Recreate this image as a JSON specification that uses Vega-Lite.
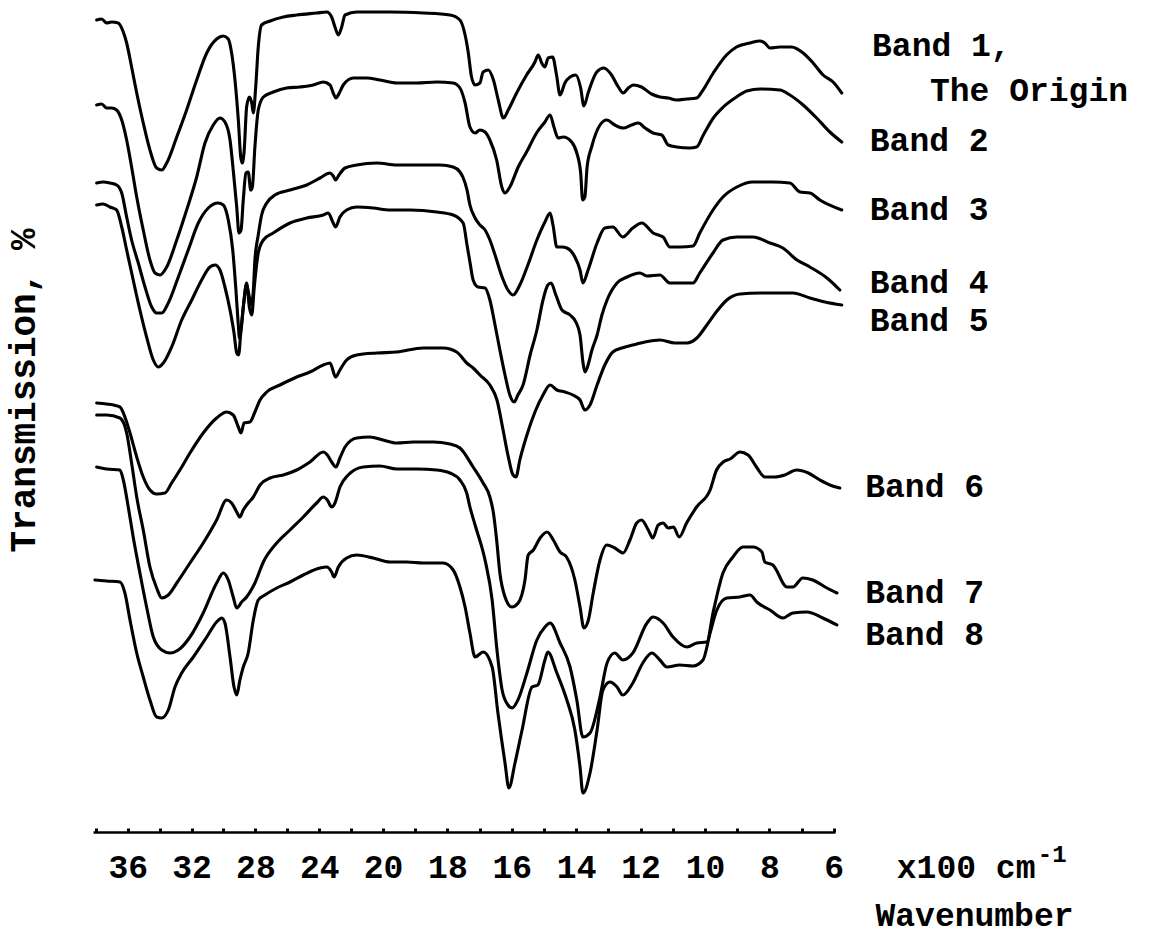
{
"$schema": "https://vega.github.io/schema/vega-lite/v6.json",
"width": 742,
"height": 832,
"autosize": {"type": "none"},
"padding": {"left": 93, "top": 0, "right": 314, "bottom": 104},
"background": "white",
"config": {"view": {"stroke": null}, "font": "Liberation Mono"},
"datasets": {
"curves": [
{"band":"Band 1","w":37.95,"level":20},{"band":"Band 1","w":37.64,"level":19},{"band":"Band 1","w":37.32,"level":23},{"band":"Band 1","w":37.01,"level":22},{"band":"Band 1","w":36.60,"level":23},{"band":"Band 1","w":36.28,"level":32},{"band":"Band 1","w":36.07,"level":43},{"band":"Band 1","w":35.76,"level":67},{"band":"Band 1","w":35.44,"level":93},{"band":"Band 1","w":35.03,"level":123},{"band":"Band 1","w":34.61,"level":150},{"band":"Band 1","w":34.19,"level":168},{"band":"Band 1","w":33.87,"level":170},{"band":"Band 1","w":33.56,"level":163},{"band":"Band 1","w":32.93,"level":137},{"band":"Band 1","w":32.31,"level":110},{"band":"Band 1","w":31.68,"level":80},{"band":"Band 1","w":31.05,"level":53},{"band":"Band 1","w":30.43,"level":39},{"band":"Band 1","w":30.01,"level":36},{"band":"Band 1","w":29.70,"level":39},{"band":"Band 1","w":29.49,"level":53},{"band":"Band 1","w":29.28,"level":80},{"band":"Band 1","w":29.07,"level":120},{"band":"Band 1","w":28.92,"level":157},{"band":"Band 1","w":28.82,"level":163},{"band":"Band 1","w":28.70,"level":150},{"band":"Band 1","w":28.55,"level":107},{"band":"Band 1","w":28.38,"level":97},{"band":"Band 1","w":28.23,"level":103},{"band":"Band 1","w":28.13,"level":113},{"band":"Band 1","w":27.98,"level":87},{"band":"Band 1","w":27.82,"level":47},{"band":"Band 1","w":27.61,"level":25},{"band":"Band 1","w":27.08,"level":21},{"band":"Band 1","w":26.25,"level":17},{"band":"Band 1","w":25.41,"level":15},{"band":"Band 1","w":24.16,"level":13},{"band":"Band 1","w":23.53,"level":12},{"band":"Band 1","w":23.22,"level":17},{"band":"Band 1","w":23.01,"level":27},{"band":"Band 1","w":22.80,"level":35},{"band":"Band 1","w":22.59,"level":27},{"band":"Band 1","w":22.38,"level":15},{"band":"Band 1","w":21.65,"level":12},{"band":"Band 1","w":19.78,"level":12},{"band":"Band 1","w":18.75,"level":13},{"band":"Band 1","w":17.92,"level":15},{"band":"Band 1","w":17.61,"level":20},{"band":"Band 1","w":17.45,"level":35},{"band":"Band 1","w":17.35,"level":53},{"band":"Band 1","w":17.25,"level":77},{"band":"Band 1","w":17.14,"level":85},{"band":"Band 1","w":16.99,"level":83},{"band":"Band 1","w":16.89,"level":72},{"band":"Band 1","w":16.73,"level":70},{"band":"Band 1","w":16.57,"level":80},{"band":"Band 1","w":16.42,"level":100},{"band":"Band 1","w":16.26,"level":118},{"band":"Band 1","w":16.11,"level":110},{"band":"Band 1","w":15.85,"level":93},{"band":"Band 1","w":15.54,"level":75},{"band":"Band 1","w":15.28,"level":62},{"band":"Band 1","w":15.18,"level":55},{"band":"Band 1","w":15.07,"level":63},{"band":"Band 1","w":14.97,"level":67},{"band":"Band 1","w":14.87,"level":58},{"band":"Band 1","w":14.73,"level":57},{"band":"Band 1","w":14.61,"level":75},{"band":"Band 1","w":14.50,"level":95},{"band":"Band 1","w":14.35,"level":83},{"band":"Band 1","w":14.19,"level":77},{"band":"Band 1","w":14.01,"level":75},{"band":"Band 1","w":13.86,"level":88},{"band":"Band 1","w":13.76,"level":106},{"band":"Band 1","w":13.62,"level":92},{"band":"Band 1","w":13.36,"level":72},{"band":"Band 1","w":13.14,"level":68},{"band":"Band 1","w":12.90,"level":75},{"band":"Band 1","w":12.69,"level":87},{"band":"Band 1","w":12.54,"level":93},{"band":"Band 1","w":12.38,"level":88},{"band":"Band 1","w":12.23,"level":85},{"band":"Band 1","w":11.97,"level":87},{"band":"Band 1","w":11.66,"level":94},{"band":"Band 1","w":11.40,"level":97},{"band":"Band 1","w":11.14,"level":98},{"band":"Band 1","w":10.88,"level":100},{"band":"Band 1","w":10.57,"level":99},{"band":"Band 1","w":10.26,"level":98},{"band":"Band 1","w":10.10,"level":92},{"band":"Band 1","w":9.74,"level":73},{"band":"Band 1","w":9.33,"level":55},{"band":"Band 1","w":9.02,"level":47},{"band":"Band 1","w":8.60,"level":43},{"band":"Band 1","w":8.29,"level":41},{"band":"Band 1","w":8.14,"level":43},{"band":"Band 1","w":7.98,"level":48},{"band":"Band 1","w":7.67,"level":47},{"band":"Band 1","w":7.31,"level":47},{"band":"Band 1","w":6.95,"level":53},{"band":"Band 1","w":6.64,"level":63},{"band":"Band 1","w":6.33,"level":75},{"band":"Band 1","w":6.02,"level":82},{"band":"Band 1","w":5.75,"level":93},
{"band":"Band 2","w":37.95,"level":105},{"band":"Band 2","w":37.64,"level":104},{"band":"Band 2","w":37.32,"level":108},{"band":"Band 2","w":37.01,"level":108},{"band":"Band 2","w":36.70,"level":110},{"band":"Band 2","w":36.38,"level":120},{"band":"Band 2","w":36.07,"level":140},{"band":"Band 2","w":35.76,"level":167},{"band":"Band 2","w":35.44,"level":197},{"band":"Band 2","w":35.03,"level":230},{"band":"Band 2","w":34.61,"level":260},{"band":"Band 2","w":34.29,"level":273},{"band":"Band 2","w":33.98,"level":275},{"band":"Band 2","w":33.56,"level":267},{"band":"Band 2","w":32.93,"level":240},{"band":"Band 2","w":32.31,"level":210},{"band":"Band 2","w":31.68,"level":177},{"band":"Band 2","w":31.16,"level":143},{"band":"Band 2","w":30.64,"level":125},{"band":"Band 2","w":30.22,"level":118},{"band":"Band 2","w":29.91,"level":122},{"band":"Band 2","w":29.59,"level":140},{"band":"Band 2","w":29.39,"level":170},{"band":"Band 2","w":29.17,"level":207},{"band":"Band 2","w":29.03,"level":233},{"band":"Band 2","w":28.90,"level":230},{"band":"Band 2","w":28.76,"level":200},{"band":"Band 2","w":28.59,"level":173},{"band":"Band 2","w":28.45,"level":172},{"band":"Band 2","w":28.29,"level":190},{"band":"Band 2","w":28.19,"level":187},{"band":"Band 2","w":28.03,"level":147},{"band":"Band 2","w":27.82,"level":110},{"band":"Band 2","w":27.50,"level":97},{"band":"Band 2","w":26.88,"level":92},{"band":"Band 2","w":26.04,"level":88},{"band":"Band 2","w":25.20,"level":87},{"band":"Band 2","w":24.37,"level":85},{"band":"Band 2","w":23.74,"level":82},{"band":"Band 2","w":23.32,"level":85},{"band":"Band 2","w":23.12,"level":93},{"band":"Band 2","w":22.95,"level":98},{"band":"Band 2","w":22.74,"level":93},{"band":"Band 2","w":22.49,"level":85},{"band":"Band 2","w":21.86,"level":78},{"band":"Band 2","w":21.02,"level":78},{"band":"Band 2","w":20.19,"level":80},{"band":"Band 2","w":19.57,"level":83},{"band":"Band 2","w":18.95,"level":83},{"band":"Band 2","w":18.33,"level":82},{"band":"Band 2","w":17.82,"level":83},{"band":"Band 2","w":17.61,"level":88},{"band":"Band 2","w":17.45,"level":103},{"band":"Band 2","w":17.30,"level":127},{"band":"Band 2","w":17.14,"level":133},{"band":"Band 2","w":16.99,"level":130},{"band":"Band 2","w":16.83,"level":132},{"band":"Band 2","w":16.68,"level":140},{"band":"Band 2","w":16.47,"level":160},{"band":"Band 2","w":16.31,"level":187},{"band":"Band 2","w":16.21,"level":193},{"band":"Band 2","w":16.06,"level":187},{"band":"Band 2","w":15.80,"level":167},{"band":"Band 2","w":15.54,"level":152},{"band":"Band 2","w":15.23,"level":133},{"band":"Band 2","w":14.97,"level":122},{"band":"Band 2","w":14.81,"level":115},{"band":"Band 2","w":14.69,"level":127},{"band":"Band 2","w":14.56,"level":138},{"band":"Band 2","w":14.40,"level":137},{"band":"Band 2","w":14.14,"level":142},{"band":"Band 2","w":13.98,"level":153},{"band":"Band 2","w":13.86,"level":173},{"band":"Band 2","w":13.80,"level":200},{"band":"Band 2","w":13.73,"level":197},{"band":"Band 2","w":13.66,"level":167},{"band":"Band 2","w":13.52,"level":147},{"band":"Band 2","w":13.26,"level":125},{"band":"Band 2","w":13.05,"level":120},{"band":"Band 2","w":12.80,"level":125},{"band":"Band 2","w":12.54,"level":128},{"band":"Band 2","w":12.28,"level":125},{"band":"Band 2","w":12.07,"level":123},{"band":"Band 2","w":11.86,"level":128},{"band":"Band 2","w":11.61,"level":133},{"band":"Band 2","w":11.34,"level":135},{"band":"Band 2","w":11.14,"level":145},{"band":"Band 2","w":10.88,"level":147},{"band":"Band 2","w":10.47,"level":148},{"band":"Band 2","w":10.26,"level":147},{"band":"Band 2","w":10.05,"level":135},{"band":"Band 2","w":9.74,"level":118},{"band":"Band 2","w":9.43,"level":107},{"band":"Band 2","w":9.02,"level":97},{"band":"Band 2","w":8.70,"level":91},{"band":"Band 2","w":8.29,"level":89},{"band":"Band 2","w":7.67,"level":90},{"band":"Band 2","w":7.36,"level":95},{"band":"Band 2","w":6.95,"level":105},{"band":"Band 2","w":6.53,"level":118},{"band":"Band 2","w":6.12,"level":132},{"band":"Band 2","w":5.75,"level":142},
{"band":"Band 3","w":37.95,"level":183},{"band":"Band 3","w":37.54,"level":182},{"band":"Band 3","w":37.12,"level":183},{"band":"Band 3","w":36.70,"level":185},{"band":"Band 3","w":36.38,"level":193},{"band":"Band 3","w":36.07,"level":217},{"band":"Band 3","w":35.76,"level":240},{"band":"Band 3","w":35.34,"level":263},{"band":"Band 3","w":34.92,"level":287},{"band":"Band 3","w":34.50,"level":307},{"band":"Band 3","w":34.19,"level":313},{"band":"Band 3","w":33.87,"level":313},{"band":"Band 3","w":33.46,"level":303},{"band":"Band 3","w":32.83,"level":277},{"band":"Band 3","w":32.21,"level":250},{"band":"Band 3","w":31.58,"level":223},{"band":"Band 3","w":30.95,"level":208},{"band":"Band 3","w":30.33,"level":203},{"band":"Band 3","w":30.01,"level":205},{"band":"Band 3","w":29.70,"level":220},{"band":"Band 3","w":29.42,"level":250},{"band":"Band 3","w":29.22,"level":290},{"band":"Band 3","w":29.07,"level":325},{"band":"Band 3","w":29.00,"level":338},{"band":"Band 3","w":28.90,"level":330},{"band":"Band 3","w":28.71,"level":300},{"band":"Band 3","w":28.56,"level":285},{"band":"Band 3","w":28.40,"level":295},{"band":"Band 3","w":28.28,"level":305},{"band":"Band 3","w":28.15,"level":295},{"band":"Band 3","w":28.03,"level":260},{"band":"Band 3","w":27.82,"level":235},{"band":"Band 3","w":27.61,"level":215},{"band":"Band 3","w":27.29,"level":203},{"band":"Band 3","w":26.77,"level":195},{"band":"Band 3","w":25.83,"level":190},{"band":"Band 3","w":24.78,"level":185},{"band":"Band 3","w":23.95,"level":178},{"band":"Band 3","w":23.32,"level":173},{"band":"Band 3","w":23.12,"level":176},{"band":"Band 3","w":22.97,"level":180},{"band":"Band 3","w":22.76,"level":175},{"band":"Band 3","w":22.38,"level":168},{"band":"Band 3","w":21.65,"level":165},{"band":"Band 3","w":20.39,"level":163},{"band":"Band 3","w":19.57,"level":165},{"band":"Band 3","w":18.85,"level":165},{"band":"Band 3","w":18.23,"level":165},{"band":"Band 3","w":17.82,"level":167},{"band":"Band 3","w":17.61,"level":172},{"band":"Band 3","w":17.52,"level":177},{"band":"Band 3","w":17.39,"level":190},{"band":"Band 3","w":17.30,"level":205},{"band":"Band 3","w":17.14,"level":218},{"band":"Band 3","w":16.99,"level":225},{"band":"Band 3","w":16.83,"level":230},{"band":"Band 3","w":16.68,"level":240},{"band":"Band 3","w":16.52,"level":255},{"band":"Band 3","w":16.30,"level":277},{"band":"Band 3","w":16.12,"level":290},{"band":"Band 3","w":15.96,"level":295},{"band":"Band 3","w":15.75,"level":285},{"band":"Band 3","w":15.50,"level":265},{"band":"Band 3","w":15.22,"level":240},{"band":"Band 3","w":14.97,"level":222},{"band":"Band 3","w":14.81,"level":213},{"band":"Band 3","w":14.72,"level":225},{"band":"Band 3","w":14.60,"level":247},{"band":"Band 3","w":14.44,"level":247},{"band":"Band 3","w":14.29,"level":248},{"band":"Band 3","w":14.04,"level":257},{"band":"Band 3","w":13.88,"level":270},{"band":"Band 3","w":13.79,"level":283},{"band":"Band 3","w":13.63,"level":270},{"band":"Band 3","w":13.35,"level":243},{"band":"Band 3","w":13.11,"level":228},{"band":"Band 3","w":12.86,"level":227},{"band":"Band 3","w":12.55,"level":237},{"band":"Band 3","w":12.24,"level":228},{"band":"Band 3","w":11.96,"level":223},{"band":"Band 3","w":11.61,"level":233},{"band":"Band 3","w":11.30,"level":237},{"band":"Band 3","w":11.09,"level":247},{"band":"Band 3","w":10.78,"level":247},{"band":"Band 3","w":10.37,"level":246},{"band":"Band 3","w":10.16,"level":233},{"band":"Band 3","w":9.75,"level":210},{"band":"Band 3","w":9.44,"level":197},{"band":"Band 3","w":9.01,"level":187},{"band":"Band 3","w":8.51,"level":182},{"band":"Band 3","w":7.89,"level":182},{"band":"Band 3","w":7.36,"level":183},{"band":"Band 3","w":7.05,"level":192},{"band":"Band 3","w":6.74,"level":193},{"band":"Band 3","w":6.43,"level":200},{"band":"Band 3","w":5.75,"level":210},
{"band":"Band 4","w":37.95,"level":205},{"band":"Band 4","w":37.54,"level":204},{"band":"Band 4","w":37.12,"level":207},{"band":"Band 4","w":36.70,"level":210},{"band":"Band 4","w":36.38,"level":227},{"band":"Band 4","w":36.07,"level":250},{"band":"Band 4","w":35.66,"level":280},{"band":"Band 4","w":35.24,"level":310},{"band":"Band 4","w":34.82,"level":337},{"band":"Band 4","w":34.40,"level":360},{"band":"Band 4","w":34.09,"level":367},{"band":"Band 4","w":33.77,"level":363},{"band":"Band 4","w":33.25,"level":347},{"band":"Band 4","w":32.62,"level":320},{"band":"Band 4","w":31.99,"level":300},{"band":"Band 4","w":31.37,"level":280},{"band":"Band 4","w":30.85,"level":267},{"band":"Band 4","w":30.53,"level":265},{"band":"Band 4","w":30.22,"level":270},{"band":"Band 4","w":29.91,"level":287},{"band":"Band 4","w":29.59,"level":310},{"band":"Band 4","w":29.34,"level":333},{"band":"Band 4","w":29.17,"level":353},{"band":"Band 4","w":29.05,"level":355},{"band":"Band 4","w":28.92,"level":333},{"band":"Band 4","w":28.71,"level":300},{"band":"Band 4","w":28.55,"level":283},{"band":"Band 4","w":28.38,"level":307},{"band":"Band 4","w":28.23,"level":315},{"band":"Band 4","w":28.07,"level":287},{"band":"Band 4","w":27.82,"level":253},{"band":"Band 4","w":27.50,"level":240},{"band":"Band 4","w":26.88,"level":233},{"band":"Band 4","w":25.83,"level":223},{"band":"Band 4","w":24.78,"level":218},{"band":"Band 4","w":23.74,"level":215},{"band":"Band 4","w":23.43,"level":213},{"band":"Band 4","w":23.15,"level":222},{"band":"Band 4","w":22.97,"level":227},{"band":"Band 4","w":22.70,"level":217},{"band":"Band 4","w":22.28,"level":210},{"band":"Band 4","w":21.65,"level":207},{"band":"Band 4","w":20.61,"level":208},{"band":"Band 4","w":19.78,"level":210},{"band":"Band 4","w":19.16,"level":210},{"band":"Band 4","w":18.33,"level":212},{"band":"Band 4","w":17.82,"level":215},{"band":"Band 4","w":17.51,"level":223},{"band":"Band 4","w":17.39,"level":245},{"band":"Band 4","w":17.30,"level":262},{"band":"Band 4","w":17.20,"level":280},{"band":"Band 4","w":17.05,"level":287},{"band":"Band 4","w":16.83,"level":288},{"band":"Band 4","w":16.68,"level":300},{"band":"Band 4","w":16.52,"level":325},{"band":"Band 4","w":16.37,"level":350},{"band":"Band 4","w":16.21,"level":375},{"band":"Band 4","w":16.06,"level":395},{"band":"Band 4","w":15.93,"level":402},{"band":"Band 4","w":15.81,"level":395},{"band":"Band 4","w":15.65,"level":385},{"band":"Band 4","w":15.43,"level":355},{"band":"Band 4","w":15.22,"level":330},{"band":"Band 4","w":15.03,"level":300},{"band":"Band 4","w":14.88,"level":285},{"band":"Band 4","w":14.78,"level":283},{"band":"Band 4","w":14.63,"level":295},{"band":"Band 4","w":14.44,"level":310},{"band":"Band 4","w":14.19,"level":315},{"band":"Band 4","w":14.01,"level":322},{"band":"Band 4","w":13.88,"level":335},{"band":"Band 4","w":13.79,"level":362},{"band":"Band 4","w":13.73,"level":372},{"band":"Band 4","w":13.63,"level":365},{"band":"Band 4","w":13.51,"level":350},{"band":"Band 4","w":13.35,"level":335},{"band":"Band 4","w":13.20,"level":315},{"band":"Band 4","w":13.04,"level":300},{"band":"Band 4","w":12.73,"level":283},{"band":"Band 4","w":12.42,"level":277},{"band":"Band 4","w":12.02,"level":273},{"band":"Band 4","w":11.80,"level":276},{"band":"Band 4","w":11.40,"level":275},{"band":"Band 4","w":11.09,"level":283},{"band":"Band 4","w":10.37,"level":283},{"band":"Band 4","w":10.16,"level":273},{"band":"Band 4","w":9.75,"level":253},{"band":"Band 4","w":9.44,"level":240},{"band":"Band 4","w":9.01,"level":237},{"band":"Band 4","w":8.51,"level":237},{"band":"Band 4","w":7.98,"level":243},{"band":"Band 4","w":7.58,"level":248},{"band":"Band 4","w":7.14,"level":260},{"band":"Band 4","w":6.74,"level":267},{"band":"Band 4","w":6.21,"level":278},{"band":"Band 4","w":5.81,"level":290},
{"band":"Band 5","w":37.95,"level":403},{"band":"Band 5","w":37.32,"level":404},{"band":"Band 5","w":36.49,"level":407},{"band":"Band 5","w":36.18,"level":417},{"band":"Band 5","w":35.86,"level":433},{"band":"Band 5","w":35.44,"level":457},{"band":"Band 5","w":35.03,"level":477},{"band":"Band 5","w":34.61,"level":490},{"band":"Band 5","w":34.19,"level":494},{"band":"Band 5","w":33.67,"level":493},{"band":"Band 5","w":33.25,"level":483},{"band":"Band 5","w":32.73,"level":470},{"band":"Band 5","w":32.10,"level":453},{"band":"Band 5","w":31.27,"level":433},{"band":"Band 5","w":30.43,"level":418},{"band":"Band 5","w":29.80,"level":412},{"band":"Band 5","w":29.39,"level":415},{"band":"Band 5","w":29.07,"level":427},{"band":"Band 5","w":28.90,"level":433},{"band":"Band 5","w":28.71,"level":423},{"band":"Band 5","w":28.34,"level":422},{"band":"Band 5","w":28.03,"level":412},{"band":"Band 5","w":27.71,"level":400},{"band":"Band 5","w":27.29,"level":392},{"band":"Band 5","w":26.46,"level":385},{"band":"Band 5","w":25.41,"level":377},{"band":"Band 5","w":24.58,"level":372},{"band":"Band 5","w":23.74,"level":365},{"band":"Band 5","w":23.32,"level":363},{"band":"Band 5","w":22.97,"level":377},{"band":"Band 5","w":22.70,"level":370},{"band":"Band 5","w":22.28,"level":360},{"band":"Band 5","w":21.65,"level":355},{"band":"Band 5","w":20.39,"level":353},{"band":"Band 5","w":19.57,"level":352},{"band":"Band 5","w":18.75,"level":348},{"band":"Band 5","w":18.13,"level":348},{"band":"Band 5","w":17.71,"level":352},{"band":"Band 5","w":17.40,"level":363},{"band":"Band 5","w":17.20,"level":368},{"band":"Band 5","w":16.99,"level":375},{"band":"Band 5","w":16.68,"level":385},{"band":"Band 5","w":16.46,"level":400},{"band":"Band 5","w":16.27,"level":430},{"band":"Band 5","w":16.12,"level":455},{"band":"Band 5","w":15.96,"level":475},{"band":"Band 5","w":15.87,"level":477},{"band":"Band 5","w":15.75,"level":460},{"band":"Band 5","w":15.53,"level":435},{"band":"Band 5","w":15.28,"level":412},{"band":"Band 5","w":15.03,"level":395},{"band":"Band 5","w":14.81,"level":385},{"band":"Band 5","w":14.60,"level":390},{"band":"Band 5","w":14.35,"level":392},{"band":"Band 5","w":14.10,"level":395},{"band":"Band 5","w":13.88,"level":400},{"band":"Band 5","w":13.73,"level":410},{"band":"Band 5","w":13.57,"level":405},{"band":"Band 5","w":13.35,"level":385},{"band":"Band 5","w":13.11,"level":365},{"band":"Band 5","w":12.86,"level":352},{"band":"Band 5","w":12.58,"level":348},{"band":"Band 5","w":12.24,"level":345},{"band":"Band 5","w":11.86,"level":342},{"band":"Band 5","w":11.40,"level":340},{"band":"Band 5","w":10.93,"level":343},{"band":"Band 5","w":10.56,"level":343},{"band":"Band 5","w":10.25,"level":338},{"band":"Band 5","w":9.94,"level":325},{"band":"Band 5","w":9.60,"level":310},{"band":"Band 5","w":9.32,"level":300},{"band":"Band 5","w":8.91,"level":294},{"band":"Band 5","w":8.29,"level":293},{"band":"Band 5","w":7.27,"level":293},{"band":"Band 5","w":6.74,"level":298},{"band":"Band 5","w":6.27,"level":302},{"band":"Band 5","w":5.75,"level":305},
{"band":"Band 6","w":37.95,"level":415},{"band":"Band 6","w":37.32,"level":415},{"band":"Band 6","w":36.49,"level":418},{"band":"Band 6","w":36.07,"level":433},{"band":"Band 6","w":35.76,"level":463},{"band":"Band 6","w":35.44,"level":497},{"band":"Band 6","w":35.03,"level":530},{"band":"Band 6","w":34.61,"level":567},{"band":"Band 6","w":34.19,"level":588},{"band":"Band 6","w":33.87,"level":598},{"band":"Band 6","w":33.46,"level":595},{"band":"Band 6","w":32.93,"level":583},{"band":"Band 6","w":32.10,"level":563},{"band":"Band 6","w":31.27,"level":543},{"band":"Band 6","w":30.43,"level":520},{"band":"Band 6","w":29.80,"level":500},{"band":"Band 6","w":29.49,"level":503},{"band":"Band 6","w":29.17,"level":512},{"band":"Band 6","w":28.97,"level":517},{"band":"Band 6","w":28.76,"level":510},{"band":"Band 6","w":28.45,"level":503},{"band":"Band 6","w":28.13,"level":497},{"band":"Band 6","w":27.71,"level":485},{"band":"Band 6","w":27.08,"level":478},{"band":"Band 6","w":26.25,"level":475},{"band":"Band 6","w":25.41,"level":470},{"band":"Band 6","w":24.58,"level":462},{"band":"Band 6","w":23.74,"level":452},{"band":"Band 6","w":23.49,"level":455},{"band":"Band 6","w":23.22,"level":462},{"band":"Band 6","w":22.95,"level":467},{"band":"Band 6","w":22.70,"level":458},{"band":"Band 6","w":22.38,"level":447},{"band":"Band 6","w":21.65,"level":438},{"band":"Band 6","w":20.82,"level":437},{"band":"Band 6","w":20.00,"level":440},{"band":"Band 6","w":19.57,"level":443},{"band":"Band 6","w":19.06,"level":442},{"band":"Band 6","w":18.44,"level":442},{"band":"Band 6","w":17.92,"level":444},{"band":"Band 6","w":17.61,"level":448},{"band":"Band 6","w":17.20,"level":467},{"band":"Band 6","w":16.89,"level":483},{"band":"Band 6","w":16.68,"level":497},{"band":"Band 6","w":16.57,"level":513},{"band":"Band 6","w":16.47,"level":540},{"band":"Band 6","w":16.37,"level":573},{"band":"Band 6","w":16.21,"level":597},{"band":"Band 6","w":16.00,"level":607},{"band":"Band 6","w":15.80,"level":603},{"band":"Band 6","w":15.59,"level":580},{"band":"Band 6","w":15.49,"level":555},{"band":"Band 6","w":15.33,"level":550},{"band":"Band 6","w":15.12,"level":538},{"band":"Band 6","w":14.90,"level":532},{"band":"Band 6","w":14.71,"level":540},{"band":"Band 6","w":14.50,"level":552},{"band":"Band 6","w":14.30,"level":557},{"band":"Band 6","w":14.04,"level":580},{"band":"Band 6","w":13.88,"level":607},{"band":"Band 6","w":13.76,"level":628},{"band":"Band 6","w":13.62,"level":620},{"band":"Band 6","w":13.47,"level":593},{"band":"Band 6","w":13.26,"level":560},{"band":"Band 6","w":13.05,"level":545},{"band":"Band 6","w":12.80,"level":548},{"band":"Band 6","w":12.54,"level":553},{"band":"Band 6","w":12.33,"level":540},{"band":"Band 6","w":12.12,"level":523},{"band":"Band 6","w":11.97,"level":520},{"band":"Band 6","w":11.76,"level":530},{"band":"Band 6","w":11.62,"level":538},{"band":"Band 6","w":11.45,"level":525},{"band":"Band 6","w":11.30,"level":523},{"band":"Band 6","w":11.14,"level":528},{"band":"Band 6","w":10.98,"level":527},{"band":"Band 6","w":10.80,"level":537},{"band":"Band 6","w":10.57,"level":523},{"band":"Band 6","w":10.26,"level":507},{"band":"Band 6","w":9.84,"level":490},{"band":"Band 6","w":9.64,"level":470},{"band":"Band 6","w":9.43,"level":462},{"band":"Band 6","w":9.22,"level":459},{"band":"Band 6","w":8.91,"level":452},{"band":"Band 6","w":8.66,"level":455},{"band":"Band 6","w":8.40,"level":467},{"band":"Band 6","w":8.14,"level":477},{"band":"Band 6","w":7.83,"level":477},{"band":"Band 6","w":7.52,"level":475},{"band":"Band 6","w":7.15,"level":470},{"band":"Band 6","w":6.79,"level":473},{"band":"Band 6","w":6.43,"level":480},{"band":"Band 6","w":6.12,"level":485},{"band":"Band 6","w":5.81,"level":488},
{"band":"Band 7","w":37.95,"level":467},{"band":"Band 7","w":37.32,"level":469},{"band":"Band 7","w":36.49,"level":470},{"band":"Band 7","w":36.28,"level":480},{"band":"Band 7","w":35.97,"level":507},{"band":"Band 7","w":35.66,"level":537},{"band":"Band 7","w":35.24,"level":573},{"band":"Band 7","w":34.82,"level":607},{"band":"Band 7","w":34.40,"level":637},{"band":"Band 7","w":33.87,"level":650},{"band":"Band 7","w":33.35,"level":653},{"band":"Band 7","w":32.83,"level":650},{"band":"Band 7","w":32.10,"level":637},{"band":"Band 7","w":31.27,"level":613},{"band":"Band 7","w":30.43,"level":583},{"band":"Band 7","w":30.01,"level":573},{"band":"Band 7","w":29.70,"level":580},{"band":"Band 7","w":29.39,"level":597},{"band":"Band 7","w":29.17,"level":608},{"band":"Band 7","w":28.86,"level":602},{"band":"Band 7","w":28.55,"level":597},{"band":"Band 7","w":28.03,"level":583},{"band":"Band 7","w":27.50,"level":562},{"band":"Band 7","w":26.66,"level":543},{"band":"Band 7","w":25.83,"level":530},{"band":"Band 7","w":25.00,"level":517},{"band":"Band 7","w":24.16,"level":503},{"band":"Band 7","w":23.74,"level":497},{"band":"Band 7","w":23.49,"level":500},{"band":"Band 7","w":23.22,"level":507},{"band":"Band 7","w":23.01,"level":503},{"band":"Band 7","w":22.70,"level":487},{"band":"Band 7","w":22.18,"level":475},{"band":"Band 7","w":21.24,"level":467},{"band":"Band 7","w":20.19,"level":466},{"band":"Band 7","w":19.57,"level":469},{"band":"Band 7","w":18.95,"level":469},{"band":"Band 7","w":18.33,"level":470},{"band":"Band 7","w":17.92,"level":473},{"band":"Band 7","w":17.61,"level":480},{"band":"Band 7","w":17.40,"level":493},{"band":"Band 7","w":17.30,"level":507},{"band":"Band 7","w":17.14,"level":525},{"band":"Band 7","w":16.83,"level":560},{"band":"Band 7","w":16.61,"level":600},{"band":"Band 7","w":16.46,"level":650},{"band":"Band 7","w":16.30,"level":690},{"band":"Band 7","w":16.12,"level":705},{"band":"Band 7","w":15.99,"level":708},{"band":"Band 7","w":15.81,"level":700},{"band":"Band 7","w":15.53,"level":673},{"band":"Band 7","w":15.22,"level":640},{"band":"Band 7","w":14.97,"level":627},{"band":"Band 7","w":14.81,"level":623},{"band":"Band 7","w":14.50,"level":643},{"band":"Band 7","w":14.19,"level":667},{"band":"Band 7","w":13.98,"level":700},{"band":"Band 7","w":13.79,"level":737},{"band":"Band 7","w":13.57,"level":733},{"band":"Band 7","w":13.26,"level":697},{"band":"Band 7","w":13.04,"level":663},{"band":"Band 7","w":12.80,"level":653},{"band":"Band 7","w":12.55,"level":660},{"band":"Band 7","w":12.24,"level":653},{"band":"Band 7","w":11.80,"level":623},{"band":"Band 7","w":11.61,"level":617},{"band":"Band 7","w":11.30,"level":623},{"band":"Band 7","w":10.99,"level":637},{"band":"Band 7","w":10.56,"level":647},{"band":"Band 7","w":10.25,"level":643},{"band":"Band 7","w":9.94,"level":642},{"band":"Band 7","w":9.75,"level":613},{"band":"Band 7","w":9.44,"level":573},{"band":"Band 7","w":9.13,"level":557},{"band":"Band 7","w":8.82,"level":547},{"band":"Band 7","w":8.51,"level":547},{"band":"Band 7","w":8.23,"level":552},{"band":"Band 7","w":8.14,"level":562},{"band":"Band 7","w":7.89,"level":565},{"band":"Band 7","w":7.45,"level":587},{"band":"Band 7","w":7.27,"level":587},{"band":"Band 7","w":6.96,"level":578},{"band":"Band 7","w":6.65,"level":580},{"band":"Band 7","w":6.21,"level":588},{"band":"Band 7","w":5.90,"level":593},
{"band":"Band 8","w":38.06,"level":580},{"band":"Band 8","w":37.32,"level":581},{"band":"Band 8","w":36.49,"level":582},{"band":"Band 8","w":36.18,"level":593},{"band":"Band 8","w":35.86,"level":620},{"band":"Band 8","w":35.44,"level":653},{"band":"Band 8","w":35.03,"level":677},{"band":"Band 8","w":34.61,"level":700},{"band":"Band 8","w":34.19,"level":717},{"band":"Band 8","w":33.87,"level":718},{"band":"Band 8","w":33.46,"level":710},{"band":"Band 8","w":33.04,"level":687},{"band":"Band 8","w":32.62,"level":673},{"band":"Band 8","w":31.89,"level":657},{"band":"Band 8","w":31.05,"level":637},{"band":"Band 8","w":30.43,"level":622},{"band":"Band 8","w":30.11,"level":618},{"band":"Band 8","w":29.91,"level":623},{"band":"Band 8","w":29.59,"level":657},{"band":"Band 8","w":29.34,"level":687},{"band":"Band 8","w":29.17,"level":695},{"band":"Band 8","w":28.97,"level":680},{"band":"Band 8","w":28.76,"level":667},{"band":"Band 8","w":28.45,"level":653},{"band":"Band 8","w":28.13,"level":620},{"band":"Band 8","w":27.82,"level":600},{"band":"Band 8","w":27.40,"level":595},{"band":"Band 8","w":26.66,"level":588},{"band":"Band 8","w":25.83,"level":582},{"band":"Band 8","w":25.00,"level":575},{"band":"Band 8","w":23.95,"level":568},{"band":"Band 8","w":23.53,"level":567},{"band":"Band 8","w":23.22,"level":572},{"band":"Band 8","w":23.07,"level":577},{"band":"Band 8","w":22.80,"level":567},{"band":"Band 8","w":22.28,"level":558},{"band":"Band 8","w":21.65,"level":555},{"band":"Band 8","w":20.61,"level":558},{"band":"Band 8","w":19.78,"level":562},{"band":"Band 8","w":19.26,"level":562},{"band":"Band 8","w":18.75,"level":563},{"band":"Band 8","w":18.13,"level":563},{"band":"Band 8","w":17.82,"level":570},{"band":"Band 8","w":17.61,"level":587},{"band":"Band 8","w":17.45,"level":607},{"band":"Band 8","w":17.30,"level":633},{"band":"Band 8","w":17.14,"level":657},{"band":"Band 8","w":16.89,"level":652},{"band":"Band 8","w":16.61,"level":667},{"band":"Band 8","w":16.43,"level":713},{"band":"Band 8","w":16.21,"level":763},{"band":"Band 8","w":16.09,"level":788},{"band":"Band 8","w":15.90,"level":763},{"band":"Band 8","w":15.68,"level":730},{"band":"Band 8","w":15.37,"level":687},{"band":"Band 8","w":15.19,"level":685},{"band":"Band 8","w":14.97,"level":660},{"band":"Band 8","w":14.88,"level":652},{"band":"Band 8","w":14.60,"level":673},{"band":"Band 8","w":14.29,"level":700},{"band":"Band 8","w":14.04,"level":730},{"band":"Band 8","w":13.88,"level":767},{"band":"Band 8","w":13.79,"level":793},{"band":"Band 8","w":13.57,"level":773},{"band":"Band 8","w":13.35,"level":730},{"band":"Band 8","w":13.17,"level":690},{"band":"Band 8","w":12.95,"level":682},{"band":"Band 8","w":12.73,"level":687},{"band":"Band 8","w":12.55,"level":695},{"band":"Band 8","w":12.24,"level":683},{"band":"Band 8","w":11.93,"level":663},{"band":"Band 8","w":11.65,"level":653},{"band":"Band 8","w":11.40,"level":660},{"band":"Band 8","w":11.18,"level":667},{"band":"Band 8","w":10.78,"level":665},{"band":"Band 8","w":10.37,"level":666},{"band":"Band 8","w":10.06,"level":660},{"band":"Band 8","w":9.84,"level":633},{"band":"Band 8","w":9.63,"level":610},{"band":"Band 8","w":9.32,"level":598},{"band":"Band 8","w":8.91,"level":597},{"band":"Band 8","w":8.60,"level":595},{"band":"Band 8","w":8.39,"level":602},{"band":"Band 8","w":7.98,"level":610},{"band":"Band 8","w":7.58,"level":618},{"band":"Band 8","w":7.27,"level":613},{"band":"Band 8","w":6.83,"level":612},{"band":"Band 8","w":6.34,"level":618},{"band":"Band 8","w":5.90,"level":625}
],
"labels": [
{"label":"Band 1,","w":4.81,"level":56},
{"label":"The Origin","w":3.01,"level":101},
{"label":"Band 2","w":4.88,"level":150.7},
{"label":"Band 3","w":4.88,"level":219.7},
{"label":"Band 4","w":4.88,"level":293},
{"label":"Band 5","w":4.88,"level":331},
{"label":"Band 6","w":5.02,"level":496.6},
{"label":"Band 7","w":5.02,"level":602.7},
{"label":"Band 8","w":5.02,"level":644.8}
],
"unit": [{"label":"x100 cm","w":4.04,"level":877.5}],
"unitsup": [{"label":"-1","w":-0.34,"level":862}]
},
"encoding": {
"x": {"field":"w","type":"quantitative",
 "scale":{"domain":[38.18,20,5.96],"range":[0,290,742],"nice":false,"zero":false},
 "axis":{
  "values":[38,36,34,32,30,28,26,24,22,20,19,18,17,16,15,14,13,12,11,10,9,8,7,6],
  "labelExpr":"indexof([36,32,28,24,20,18,16,14,12,10,8,6], datum.value) >= 0 ? datum.label : ''",
  "labelFont":"Liberation Mono","labelFontWeight":"bold","labelFontSize":33,"labelColor":"black",
  "labelBaseline":"alphabetic","labelPadding":49,"labelOverlap":false,"labelFlush":false,"labelBound":false,
  "tickSize":-4,"tickWidth":3,"tickColor":"black",
  "domainColor":"black","domainWidth":2.5,"grid":false,
  "title":"Wavenumber","titleFont":"Liberation Mono","titleFontWeight":"bold","titleFontSize":33,"titleColor":"black",
  "titleAlign":"left","titleBaseline":"alphabetic","titleAngle":0,"titleX":782,"titleY":93
 }},
"y": {"field":"level","type":"quantitative",
 "scale":{"domain":[0,832],"reverse":true,"nice":false,"zero":false},
 "axis":{
  "domain":false,"ticks":false,"labels":false,"grid":false,
  "title":"Transmission, %","titleFont":"Liberation Mono","titleFontWeight":"bold","titleFontSize":36,"titleColor":"black",
  "titleAngle":-90,"titleAlign":"center","titleBaseline":"middle","titleX":-70,"titleY":390
 }}
},
"layer": [
{"data":{"name":"curves"},
 "mark":{"type":"line","color":"black","strokeWidth":3.1,"interpolate":"monotone","strokeJoin":"round","strokeCap":"round"},
 "encoding":{"detail":{"field":"band"}}},
{"data":{"name":"labels"},
 "mark":{"type":"text","font":"Liberation Mono","fontWeight":"bold","fontSize":33,"align":"left","baseline":"alphabetic","color":"black"},
 "encoding":{"text":{"field":"label"}}},
{"data":{"name":"unit"},
 "mark":{"type":"text","font":"Liberation Mono","fontWeight":"bold","fontSize":33,"align":"left","baseline":"alphabetic","color":"black"},
 "encoding":{"text":{"field":"label"}}},
{"data":{"name":"unitsup"},
 "mark":{"type":"text","font":"Liberation Mono","fontWeight":"bold","fontSize":24,"align":"left","baseline":"alphabetic","color":"black"},
 "encoding":{"text":{"field":"label"}}}
]
}
